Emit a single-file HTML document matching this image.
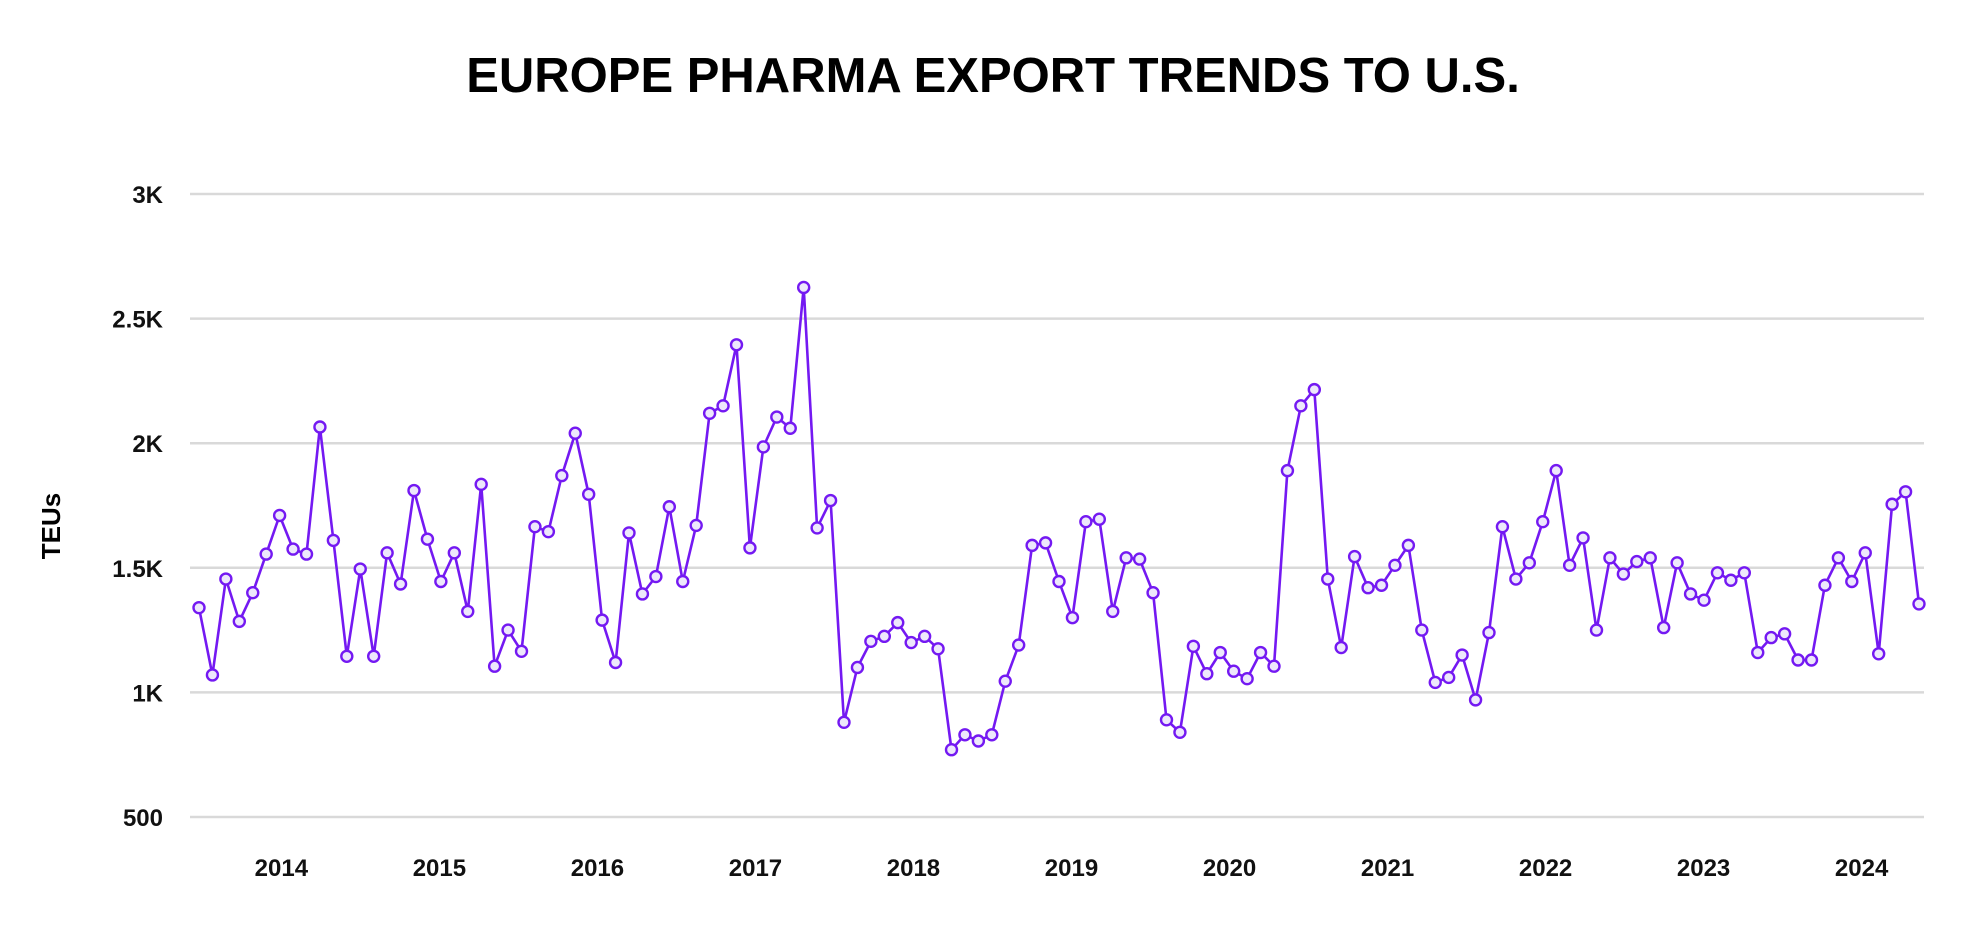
<!DOCTYPE html>
<html><head><meta charset="utf-8"><style>
html,body{margin:0;padding:0;background:#fff;}
svg text{font-family:"Liberation Sans",sans-serif;}
</style></head><body>
<svg id="chart" width="1986" height="924" viewBox="0 0 1986 924" xmlns="http://www.w3.org/2000/svg">
<text x="993" y="92" text-anchor="middle" font-size="49" font-weight="bold" fill="#000">EUROPE PHARMA EXPORT TRENDS TO U.S.</text>
<text transform="translate(60,526) rotate(-90)" text-anchor="middle" font-size="26" font-weight="bold" fill="#000">TEUs</text>
<g id="grid"></g><g id="ylabels"></g><g id="xlabels"></g><g id="series"></g>
</svg>
<script>
const values = [1340,1070,1455,1285,1400,1555,1710,1575,1555,2065,1610,1145,1495,1145,1560,1435,1810,1615,1445,1560,1325,1835,1105,1250,1165,1665,1645,1870,2040,1795,1290,1120,1640,1395,1465,1745,1445,1670,2120,2150,2395,1580,1985,2105,2060,2625,1660,1770,880,1100,1205,1225,1280,1200,1225,1175,770,830,805,830,1045,1190,1590,1600,1445,1300,1685,1695,1325,1540,1535,1400,890,840,1185,1075,1160,1085,1055,1160,1105,1890,2150,2215,1455,1180,1545,1420,1430,1510,1590,1250,1040,1060,1150,970,1240,1665,1455,1520,1685,1890,1510,1620,1250,1540,1475,1525,1540,1260,1520,1395,1370,1480,1450,1480,1160,1220,1235,1130,1130,1430,1540,1445,1560,1155,1755,1805,1355];
const yTicks = [500,1000,1500,2000,2500,3000];
const yTickLabels = ["500","1K","1.5K","2K","2.5K","3K"];
const xTickYears = [2014,2015,2016,2017,2018,2019,2020,2021,2022,2023,2024];
const NS="http://www.w3.org/2000/svg";
const X0=199,X1=1919,GX0=190,GX1=1924,Y500=817,Y3K=194;
function xScale(i){return X0+(X1-X0)*i/(values.length-1);}
function yScale(v){return Y500+(v-500)*(Y3K-Y500)/2500;}
function yearX(y){return xScale(6.13+(y-2014)*11.76);}
function mk(t,a){const e=document.createElementNS(NS,t);for(const k in a)e.setAttribute(k,a[k]);return e;}
const grid=document.getElementById('grid'),yl=document.getElementById('ylabels'),xl=document.getElementById('xlabels'),s=document.getElementById('series');
yTicks.forEach((v,i)=>{
 const l=mk('line',{x1:GX0,x2:GX1,y1:yScale(v),y2:yScale(v),stroke:'#d9d9d9','stroke-width':2.5});
 
 
 grid.appendChild(l);
 const t=mk('text',{x:163,y:yScale(v)+9,'text-anchor':'end','font-size':24,'font-weight':'bold',fill:'#111'});
 t.textContent=yTickLabels[i];
 
 
 yl.appendChild(t);
});
xTickYears.forEach(y=>{
 const t=mk('text',{x:yearX(y),y:876,'text-anchor':'middle','font-size':24,'font-weight':'bold',fill:'#111'});
 t.textContent=String(y);
 
 
 xl.appendChild(t);
});
const pts=values.map((v,i)=>xScale(i).toFixed(1)+','+yScale(v).toFixed(1)).join(' ');
const pl=mk('polyline',{points:pts,fill:'none',stroke:'#7419f2','stroke-width':2.6,'stroke-linejoin':'round'});


s.appendChild(pl);
values.forEach((v,i)=>{
 const c=mk('circle',{cx:xScale(i),cy:yScale(v),r:5.5,fill:'#ede8fb',stroke:'#7419f2','stroke-width':2.4});
 
 
 s.appendChild(c);
});
</script>
</body></html>
